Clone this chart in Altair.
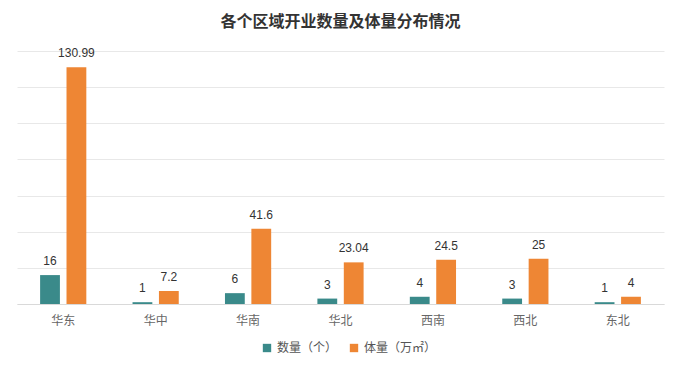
import altair as alt
import pandas as pd

regions = ["华东", "华中", "华南", "华北", "西南", "西北", "东北"]
counts = [16, 1, 6, 3, 4, 3, 1]
volumes = [130.99, 7.2, 41.6, 23.04, 24.5, 25, 4]
series_names = ["数量（个）", "体量（万㎡）"]
colors = ["#3a8a8a", "#ee8634"]
grid_values = [0, 20, 40, 60, 80, 100, 120, 140]

rows = []
for r, c, v in zip(regions, counts, volumes):
    rows.append({"region": r, "series": series_names[0], "value": c, "label": str(c)})
    rows.append({"region": r, "series": series_names[1], "value": v, "label": str(v)})
df = pd.DataFrame(rows)

x = alt.X("region:N", sort=regions, title=None,
          scale=alt.Scale(paddingInner=0.5, paddingOuter=0.25),
          axis=alt.Axis(labelAngle=0, ticks=False, domainColor="#d9d9d9",
                        labelFont="Noto Sans CJK SC", labelFontSize=12,
                        labelColor="#666666", labelPadding=11))
xo = alt.XOffset("series:N", sort=series_names,
                 scale=alt.Scale(paddingInner=0.25, paddingOuter=0))
y = alt.Y("value:Q", title=None,
          scale=alt.Scale(domain=[0, 140], nice=False),
          axis=alt.Axis(values=grid_values, labels=False, ticks=False,
                        domain=False, grid=True, gridColor="#e8e8e8"))
color = alt.Color("series:N", sort=series_names, title=None,
                  scale=alt.Scale(domain=series_names, range=colors),
                  legend=alt.Legend(orient="none", direction="horizontal",
                                    legendX=244, legendY=291,
                                    symbolType="square", symbolSize=70,
                                    labelFont="Noto Sans CJK SC",
                                    labelFontSize=12, labelColor="#555555",
                                    columnPadding=10))

base = alt.Chart(df)
bars = base.mark_bar().encode(x=x, xOffset=xo, y=y, color=color)
texts = base.mark_text(dy=-7, baseline="bottom", fontSize=12,
                       font="Liberation Sans", color="#333333").encode(
    x=x, xOffset=xo, y=y, text="label:N")

chart = alt.layer(bars, texts).properties(
    width=647, height=253,
    title=alt.TitleParams("各个区域开业数量及体量分布情况", font="Noto Sans CJK SC",
                          fontSize=16, fontWeight="bold", color="#333333",
                          anchor="middle", offset=17),
    autosize=alt.AutoSizeParams(type="none"),
    padding={"left": 9, "top": 43, "right": 8, "bottom": 55},
).configure(background="white").configure_view(strokeWidth=0)

chart.save("out.html", embed_options={"renderer": "svg", "actions": False})
